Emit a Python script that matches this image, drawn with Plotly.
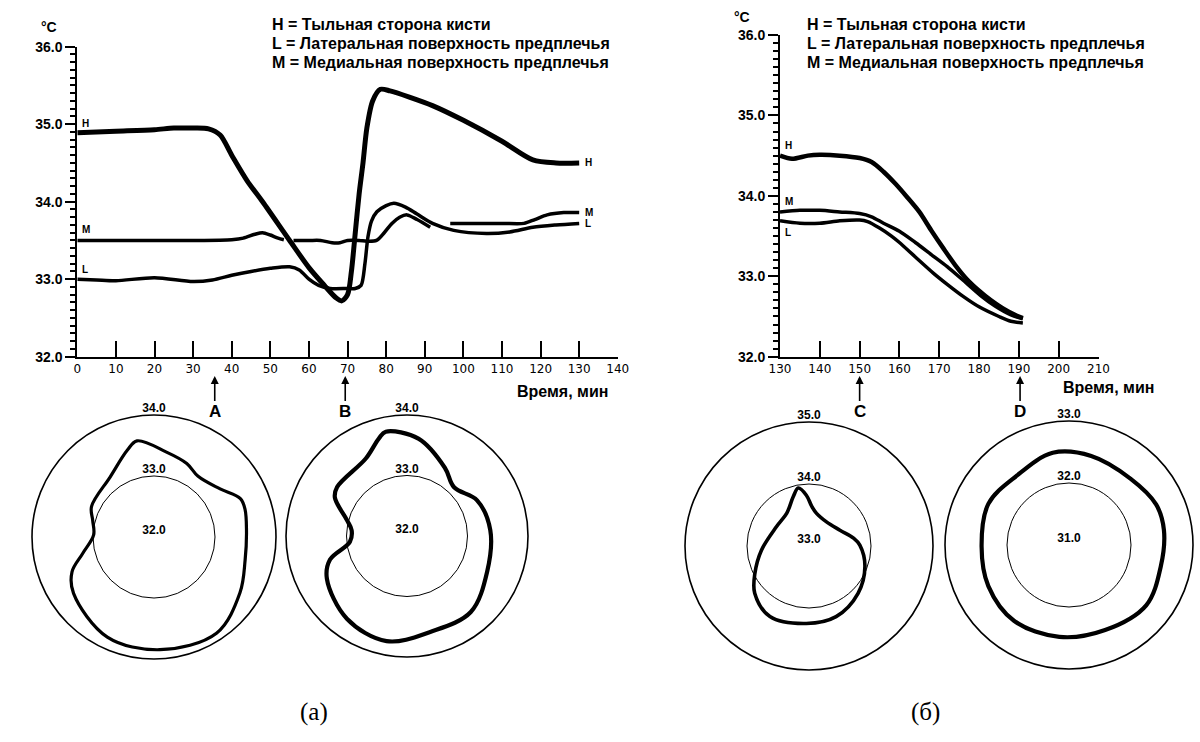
import plotly.graph_objects as go

# ---------- panel (а): forearm/hand skin temperature, 0–130 min ----------
h_a_t = [0, 10, 20, 25, 30, 34, 37, 40, 44, 48, 55, 60, 64, 67, 68.5, 70, 71, 72, 73, 74, 75, 76.5,
         78.5, 81, 86, 92, 100, 110, 118, 124, 130]
h_a_v = [34.89, 34.91, 34.93, 34.95, 34.95, 34.94, 34.86, 34.6, 34.27, 34.0, 33.5, 33.15, 32.92,
         32.76, 32.72, 32.8, 33.1, 33.6, 34.1, 34.5, 34.95, 35.3, 35.45, 35.43, 35.35, 35.24, 35.05,
         34.78, 34.54, 34.5, 34.5]

l_a_t = [0, 5, 10, 20, 30, 35, 40, 45, 50, 55, 57.5, 60, 62.5, 65.5, 70, 72, 73.5, 74.5, 75.3, 76.2,
         77.6, 80, 82, 85, 88, 92, 97.5, 106, 112, 118, 124, 130]
l_a_v = [33.0, 32.99, 32.98, 33.02, 32.97, 32.99, 33.05, 33.1, 33.14, 33.16, 33.12, 33.0, 32.92,
         32.88, 32.88, 32.88, 32.92, 33.2, 33.55, 33.75, 33.87, 33.95, 33.98, 33.93, 33.84, 33.72,
         33.63, 33.59, 33.61, 33.67, 33.7, 33.72]

m_a_t = [0, 10, 20, 30, 40, 43, 46, 48, 50, 52, 53.5, 54.5, 56, 60, 63, 66, 68, 70, 73, 75, 77.5,
         79.5, 81.5, 83.5, 85.4, 88, 91.4, 94, 96.6, 100, 110, 115.7, 118.5, 121.7, 126, 130]
m_a_v = [33.5, 33.5, 33.5, 33.5, 33.51, 33.53, 33.58, 33.6, 33.57, 33.53, 33.51, None, 33.5, 33.5,
         33.5, 33.47, 33.47, 33.5, 33.5, 33.49, 33.5, 33.6, 33.72, 33.8, 33.83, 33.77, 33.67, None,
         33.72, 33.72, 33.72, 33.72, 33.77, 33.83, 33.86, 33.86]

# ---------- panel (б): 130–190 min ----------
h_b_t = [130, 133, 137, 140, 145, 150, 153, 156, 159, 162, 165, 168, 171, 174, 177, 180, 183, 186,
         189, 191]
h_b_v = [34.5, 34.46, 34.5, 34.51, 34.5, 34.47, 34.42, 34.3, 34.15, 33.98, 33.8, 33.57, 33.35,
         33.14, 32.96, 32.82, 32.7, 32.6, 32.52, 32.48]

m_b_t = [130, 135, 140, 145, 150, 153, 156, 160, 164, 168, 172, 176, 180.4, 184, 188, 191]
m_b_v = [33.8, 33.82, 33.82, 33.8, 33.78, 33.74, 33.66, 33.56, 33.42, 33.27, 33.12, 32.95, 32.76,
         32.63, 32.52, 32.47]

l_b_t = [130, 135, 140, 145, 150, 152, 155, 158, 160, 164, 168.5, 172, 176, 180, 185, 188, 191]
l_b_v = [33.69, 33.66, 33.66, 33.69, 33.7, 33.68, 33.6, 33.5, 33.42, 33.24, 33.04, 32.9, 32.75,
         32.62, 32.5, 32.44, 32.42]

x_ticks_a = list(range(0, 141, 10))
x_ticks_b = list(range(130, 211, 10))
y_ticks = [32, 33, 34, 35, 36]
y_tick_text = ["32.0", "33.0", "34.0", "35.0", "36.0"]

legend_lines = ["H = Тыльная сторона кисти",
                "L = Латеральная поверхность предплечья",
                "M = Медиальная поверхность предплечья"]

# ---------- circular thermal maps of the forearm cross-section ----------
# angle clockwise from top (deg), temperature (°C)
ring_a_theta = [8, 24, 36, 54, 66, 73, 86, 104, 123, 147, 177, 205, 235, 247, 257, 272, 285, 296,
                324, 343, 350, 8]
ring_a_temp = [33.41, 33.32, 33.23, 33.34, 33.55, 33.56, 33.52, 33.54, 33.68, 33.88, 33.85, 33.81,
               33.61, 33.46, 33.20, 32.99, 33.04, 33.14, 33.22, 33.49, 33.60, 33.41]
ring_a_levels = [32.0, 33.0, 34.0]

ring_b_theta = [6.7, 29, 44, 63, 86, 114, 140, 166, 191, 216, 242, 253, 264, 276, 285, 298, 305,
                332, 344, 348.5, 6.7]
ring_b_temp = [33.62, 33.29, 33.12, 33.30, 33.38, 33.45, 33.64, 33.63, 33.77, 33.69, 33.50, 33.33,
               32.95, 32.92, 33.03, 33.35, 33.41, 33.45, 33.68, 33.76, 33.62]
ring_b_levels = [32.0, 33.0, 34.0]

ring_c_theta = [4, 13, 36, 63, 80, 89, 110, 134, 159, 182, 209, 229, 243, 265, 301, 326, 342,
                349.5, 357, 4]
ring_c_temp = [33.64, 33.54, 33.48, 33.56, 33.73, 33.82, 33.96, 34.10, 34.22, 34.25, 34.30, 34.16,
               33.98, 33.77, 33.61, 33.64, 33.83, 33.95, 33.82, 33.64]
ring_c_levels = [33.0, 34.0, 35.0]

ring_d_theta = [14, 43, 65, 81, 103, 128, 157, 186, 216, 243, 269, 297, 323, 350, 14]
ring_d_temp = [32.48, 32.46, 32.55, 32.55, 32.52, 32.58, 32.49, 32.49, 32.51, 32.46, 32.41, 32.46,
               32.40, 32.51, 32.48]
ring_d_levels = [31.0, 32.0, 33.0]

W, H = 1200, 742


def px_x(p):
    return p / W


def px_y(p):
    return 1 - p / H


fig = go.Figure()

spl = dict(shape="spline", smoothing=0.8, color="black")

# line charts
fig.add_trace(go.Scatter(x=h_a_t, y=h_a_v, mode="lines", line=dict(width=5, **spl),
                         xaxis="x", yaxis="y"))
fig.add_trace(go.Scatter(x=l_a_t, y=l_a_v, mode="lines", line=dict(width=3.5, **spl),
                         xaxis="x", yaxis="y"))
fig.add_trace(go.Scatter(x=m_a_t, y=m_a_v, mode="lines", line=dict(width=3.5, **spl),
                         connectgaps=False, xaxis="x", yaxis="y"))
fig.add_trace(go.Scatter(x=h_b_t, y=h_b_v, mode="lines", line=dict(width=4.5, **spl),
                         xaxis="x2", yaxis="y2"))
fig.add_trace(go.Scatter(x=m_b_t, y=m_b_v, mode="lines", line=dict(width=3.5, **spl),
                         xaxis="x2", yaxis="y2"))
fig.add_trace(go.Scatter(x=l_b_t, y=l_b_v, mode="lines", line=dict(width=3.5, **spl),
                         xaxis="x2", yaxis="y2"))

# rings
rings = [
    ("polar", ring_a_theta, ring_a_temp, ring_a_levels, 3.2),
    ("polar2", ring_b_theta, ring_b_temp, ring_b_levels, 4.2),
    ("polar3", ring_c_theta, ring_c_temp, ring_c_levels, 3.6),
    ("polar4", ring_d_theta, ring_d_temp, ring_d_levels, 4.2),
]
for sub, th, tv, lv, lw in rings:
    fig.add_trace(go.Scatterpolar(theta=th, r=tv, mode="lines", subplot=sub,
                                  line=dict(color="black", width=lw, shape="spline", smoothing=1)))
    fig.add_trace(go.Scatterpolar(theta=[0, 0, 0], r=lv, mode="text", subplot=sub, cliponaxis=False,
                                  text=["<b>%.1f</b>" % v for v in lv], textposition="top center",
                                  textfont=dict(family="Liberation Sans", size=12, color="black")))


def time_axis(domain, rng, vals, anchor):
    return dict(domain=domain, range=rng, anchor=anchor, tickvals=vals, automargin=False,
                ticktext=[str(v) for v in vals], showline=True, linecolor="black", linewidth=2,
                ticks="inside", ticklen=16, tickwidth=2, tickcolor="black", showgrid=False,
                zeroline=False, tickfont=dict(family="DejaVu Sans", size=12, color="black"))


def temp_axis(domain, anchor):
    return dict(domain=domain, range=[32, 36], anchor=anchor, tickvals=y_ticks, automargin=False,
                ticktext=y_tick_text, showline=True, linecolor="black", linewidth=2,
                ticks="outside", ticklen=10, tickwidth=2, tickcolor="black", showgrid=False,
                zeroline=False,
                minor=dict(dtick=0.1, ticks="outside", ticklen=5, tickwidth=1.5, tickcolor="black",
                           showgrid=False),
                tickfont=dict(family="Liberation Sans", size=14, color="black", weight="bold"))


def ring_layout(x0, x1, y0, y1, levels):
    return dict(domain=dict(x=[px_x(x0), px_x(x1)], y=[px_y(y1), px_y(y0)]), bgcolor="white",
                radialaxis=dict(range=[levels[0], levels[2]], tickvals=[levels[1]],
                                showticklabels=False, showline=False, ticks="", showgrid=True,
                                gridcolor="black", gridwidth=1.4),
                angularaxis=dict(rotation=90, direction="clockwise", showgrid=False,
                                 showticklabels=False, ticks="", showline=True,
                                 linecolor="black", linewidth=1.6))


annotations = []
bold = dict(family="Liberation Sans", color="black", weight="bold")


def paper_text(px, py, text, font):
    return dict(x=px_x(px), y=px_y(py), xref="paper", yref="paper", text=text, showarrow=False,
                xanchor="center", yanchor="middle", font=font)


for i, txt in enumerate(legend_lines):
    y = [25, 43.5, 62][i]
    for x0 in (270, 805):
        annotations.append(dict(x=px_x(x0), y=px_y(y), xref="paper", yref="paper", text=txt,
                                showarrow=False, xanchor="left", yanchor="middle",
                                font=dict(size=16, **bold)))

annotations += [
    paper_text(49, 27, "°C", dict(size=14, **bold)),
    paper_text(742, 17, "°C", dict(size=14, **bold)),
    paper_text(562, 391, "Время, мин", dict(size=16, **bold)),
    paper_text(1108, 387, "Время, мин", dict(size=16, **bold)),
    paper_text(314, 712, "(а)", dict(family="Liberation Serif", size=25, color="black")),
    paper_text(925, 712, "(б)", dict(family="Liberation Serif", size=25, color="black")),
]

# event markers under the time axes
for xref, xv, lab in [("x", 35.6, "A"), ("x", 69.4, "B"), ("x2", 150, "C"), ("x2", 190.3, "D")]:
    annotations.append(dict(x=xv, y=px_y(376), xref=xref, yref="paper", text=lab, showarrow=True,
                            ax=0, ay=36, arrowhead=2, arrowsize=1, arrowwidth=1.6,
                            arrowcolor="black", font=dict(size=17, **bold)))

# curve letters
small = dict(size=10, **bold)
annotations += [
    dict(x=0, y=h_a_v[0], xref="x", yref="y", text="H", showarrow=False, xanchor="left",
         yanchor="bottom", xshift=3, yshift=2, font=small),
    dict(x=0, y=m_a_v[0], xref="x", yref="y", text="M", showarrow=False, xanchor="left",
         yanchor="bottom", xshift=3, yshift=3, font=small),
    dict(x=0, y=l_a_v[0], xref="x", yref="y", text="L", showarrow=False, xanchor="left",
         yanchor="bottom", xshift=3, yshift=2, font=small),
    dict(x=h_a_t[-1], y=h_a_v[-1], xref="x", yref="y", text="H", showarrow=False,
         xanchor="left", yanchor="middle", xshift=4, font=small),
    dict(x=m_a_t[-1], y=m_a_v[-1], xref="x", yref="y", text="M", showarrow=False,
         xanchor="left", yanchor="middle", xshift=4, font=small),
    dict(x=l_a_t[-1], y=l_a_v[-1], xref="x", yref="y", text="L", showarrow=False,
         xanchor="left", yanchor="middle", xshift=4, font=small),
    dict(x=130, y=h_b_v[0], xref="x2", yref="y2", text="H", showarrow=False, xanchor="left",
         yanchor="bottom", xshift=3, yshift=3, font=small),
    dict(x=130, y=m_b_v[0], xref="x2", yref="y2", text="M", showarrow=False, xanchor="left",
         yanchor="bottom", xshift=3, yshift=3, font=small),
    dict(x=130, y=l_b_v[0], xref="x2", yref="y2", text="L", showarrow=False, xanchor="left",
         yanchor="top", xshift=3, yshift=-4, font=small),
]

fig.update_layout(
    width=W, height=H, margin=dict(l=0, r=0, t=0, b=0, autoexpand=False), showlegend=False,
    paper_bgcolor="white", plot_bgcolor="white",
    xaxis=time_axis([px_x(77.3), px_x(617.8)], [0, 140], x_ticks_a, "y"),
    yaxis=temp_axis([px_y(356.7), px_y(46.7)], "x"),
    xaxis2=time_axis([px_x(780), px_x(1098.5)], [130, 210], x_ticks_b, "y2"),
    yaxis2=temp_axis([px_y(356.7), px_y(35)], "x2"),
    polar=ring_layout(32, 276, 415, 659, ring_a_levels),
    polar2=ring_layout(286, 528, 415, 657, ring_b_levels),
    polar3=ring_layout(685, 933, 422, 670, ring_c_levels),
    polar4=ring_layout(945, 1193, 421, 669, ring_d_levels),
    annotations=annotations,
)

fig.write_html("out.html")
